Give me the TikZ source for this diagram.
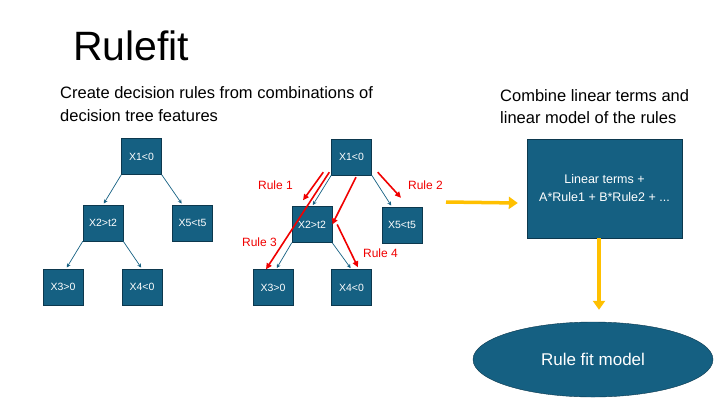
\documentclass[tikz,border=0pt]{standalone}
\usepackage{fontspec}
\setmainfont{Liberation Sans}
\definecolor{TreeBlue}{RGB}{21, 96, 130}
\definecolor{TreeEdge}{RGB}{12, 56, 78}
\definecolor{RuleRed}{RGB}{240, 0, 0}
\definecolor{ArrowGold}{RGB}{255, 192, 0}
\usetikzlibrary{arrows.meta, positioning, shapes.geometric}

\begin{document}
\begin{tikzpicture}[x=1pt, y=-1pt,
        treebox/.style={draw=TreeEdge, fill=TreeBlue, text=white, minimum width=40pt, minimum height=36pt, inner sep=0pt, font=\fontsize{10.5}{12}\selectfont},
        treeedge/.style={TreeBlue, line width=0.7pt, shorten >=1.5pt, -{Stealth[length=4pt, width=4pt]}},
        rulearrow/.style={RuleRed, line width=1.6pt, -{Triangle[length=6pt, width=5.5pt]}},
        rulelabel/.style={RuleRed, font=\fontsize{12}{14}\selectfont},
        bigarrow/.style={ArrowGold, line width=3.5pt, -{Triangle[length=9pt, width=12pt]}}]
        \useasboundingbox (0,0) rectangle (720,405);

        % Title
        \node[anchor=base west, inner sep=0pt, font=\fontsize{41}{48}\selectfont] (title) at (73,60) {Rulefit};

        % Captions
        \node[anchor=base west, inner sep=0pt, align=left, font=\fontsize{16.5}{23}\selectfont] (capleft) at (60,121) {Create decision rules from combinations of\\decision tree features};
        \node[anchor=base west, inner sep=0pt, align=left, font=\fontsize{16.5}{22}\selectfont] (capright) at (500,123) {Combine linear terms and\\linear model of the rules};

        % Left tree
        \node[treebox] (l1) at (141.5,156.5) {X1<0};
        \node[treebox] (l2) at (103,223) {X2>t2};
        \node[treebox] (l5) at (192.5,223) {X5<t5};
        \node[treebox] (l3) at (63,287) {X3>0};
        \node[treebox] (l4) at (142,287) {X4<0};
        \draw[treeedge] (l1.south west) -- (l2.north);
        \draw[treeedge] (l1.south east) -- ([xshift=-10pt]l5.north);
        \draw[treeedge] (l2.south west) -- ([xshift=3pt]l3.north);
        \draw[treeedge] (l2.south east) -- (l4.north);

        % Right tree
        \node[treebox] (r1) at (351.5,157) {X1<0};
        \node[treebox] (r2) at (312,224.5) {X2>t2};
        \node[treebox] (r5) at (402,225) {X5<t5};
        \node[treebox] (r3) at (273,287.5) {X3>0};
        \node[treebox] (r4) at (351.5,287.5) {X4<0};
        \draw[treeedge] (r1.south west) -- (r2.north);
        \draw[treeedge] (r1.south east) -- ([xshift=-10pt]r5.north);
        \draw[treeedge] (r2.south west) -- ([xshift=3pt]r3.north);
        \draw[treeedge] (r2.south east) -- (r4.north);

        % Rules
        \draw[rulearrow] ([xshift=-8pt, yshift=3pt]r1.south west) -- ([xshift=-9pt, yshift=6pt]r2.north);
        \draw[rulearrow] ([xshift=-2pt, yshift=3pt]r1.south west) -- ([xshift=-7pt]r3.north);
        \draw[rulearrow] ([xshift=4.5pt, yshift=-2pt]r1.south) -- (r2.east);
        \draw[rulearrow] ([xshift=5pt]r2.east) -- ([xshift=6.5pt, yshift=2pt]r4.north);
        \draw[rulearrow] ([xshift=6pt, yshift=3pt]r1.south east) -- ([xshift=-1pt, yshift=9pt]r5.north);
        \node[rulelabel] (rule1) at (275.5,185) {Rule 1};
        \node[rulelabel] (rule2) at (425.5,185) {Rule 2};
        \node[rulelabel] (rule3) at (259.5,242) {Rule 3};
        \node[rulelabel] (rule4) at (380.5,253) {Rule 4};

        % Linear model
        \node[draw=TreeEdge, fill=TreeBlue, text=white, minimum width=155pt, minimum height=99pt, align=center, font=\fontsize{12.5}{18}\selectfont] (linear) at (604.5,188.5) {Linear terms +\\A*Rule1 + B*Rule2 + ...};
        \node[ellipse, draw=TreeEdge, fill=TreeBlue, text=white, minimum width=240pt, minimum height=75pt, inner sep=0pt, font=\fontsize{17}{20}\selectfont] (model) at (593,359.5) {Rule fit model};
        \coordinate (treeout) at (446,202);
        \draw[bigarrow] (treeout) -- ([xshift=-9pt, yshift=-14.5pt]linear.west);
        \draw[bigarrow] ([xshift=-5.5pt]linear.south) -- ([xshift=6pt, yshift=12pt]model.north);
\end{tikzpicture}
\end{document}
